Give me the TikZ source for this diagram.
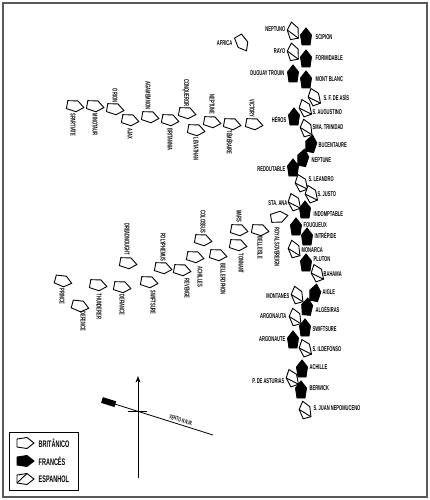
\documentclass[tikz,border=0pt]{standalone}
\usepackage{fontspec}
\newfontfamily\shipfont[FakeStretch=0.58]{Liberation Sans}
\usetikzlibrary{arrows.meta,calc}

\tikzset{
  hull/.style={draw, line width=0.9pt, line join=miter},
  pics/brit/.style={code={
      \draw[hull, fill=white] (9,0) -- (2,5.5) -- (-8,4) -- (-8,-4) -- (2,-5.5) -- cycle;}},
  pics/fran/.style={code={
      \draw[hull, fill=black] (9,0) -- (2,5.5) -- (-8,4) -- (-8,-4) -- (2,-5.5) -- cycle;}},
  pics/esp/.style={code={
      \draw[hull, fill=white] (9,0) -- (2,5.5) -- (-8,4) -- (-8,-4) -- (2,-5.5) -- cycle;
      \draw[hull] (2,-5.5) -- (-8,4);}},
  shiplab/.style={font=\shipfont\bfseries\fontsize{7}{8}\selectfont, inner sep=0.5pt},
  keylab/.style={font=\shipfont\bfseries\fontsize{9.5}{10}\selectfont, inner sep=0.5pt, anchor=west},
}

\begin{document}
\begin{tikzpicture}[
    x=1pt,y=-1pt,
    >=Stealth
    ]

    \useasboundingbox (0,0) rectangle (430,500);
    \draw[gray!70!black, line width=1.2pt] (3,3) rectangle (427,497);

    % =========================
    % Combined fleet (right column)
    % =========================
    \foreach \n/\x/\y/\r/\a/\lx/\ly/\t in {
        sci/306/37/90/west/315/37/SCIPION,
        for/306/59/90/west/315/58/FORMIDABLE,
        dug/293/74/90/east/285/73/DUGUAY TROUIN,
        mon/306/80/90/west/315/79/MONT BLANC,
        her/294/117/90/east/287/119/HÉROS,
        buc/311/144/80/west/318/145/BUCENTAURE,
        nef/303/158/80/west/311/160/NEPTUNE,
        red/293/168/90/east/286/169/REDOUTABLE,
        ind/305/210/90/west/313/214/INDOMPTABLE,
        fou/296/227/90/west/303/225/FOUGUEUX,
        int/307/237/90/west/314/235/INTRÉPIDE,
        plu/306/263/90/west/313/259/PLUTON,
        aig/315/293/80/west/322/292/AIGLE,
        alg/307/307/85/west/315/309/ALGÉSIRAS,
        swf/305/328/90/west/312/329/SWIFTSURE,
        arf/293/340/90/east/286/339/ARGONAUTE,
        ach/302/369/90/west/309/367/ACHILLE,
        ber/301/390/90/west/309/388/BERWICK}
      {
        \pic[rotate=\r] at (\x,\y) {fran};
        \node[shiplab, anchor=\a] (f-\n) at (\lx,\ly) {\t};
      }

    \foreach \n/\x/\y/\r/\a/\lx/\ly/\t in {
        nep/293/31/100/east/286/29/NEPTUNO,
        ray/293/52/100/east/286/51/RAYO,
        sfa/314/97/110/west/323/97/S. F. DE ASÍS,
        sau/305/108/110/west/312/112/S. AUGUSTINO,
        sma/306/128/105/west/312/127/SMA. TRINIDAD,
        sle/301/183/110/west/308/179/S. LEANDRO,
        sju/311/194/110/west/317/194/S. JUSTO,
        sta/294/202/110/east/288/203/STA. ANA,
        mna/294/249/105/west/301/250/MONARCA,
        bah/317/273/110/west/323/274/BAHAMA,
        mnt/297/295/105/east/290/296/MONTANES,
        arg/295/317/105/east/287/316/ARGONAUTA,
        sil/305/348/110/west/312/349/S. ILDEFONSO,
        pda/292/378/110/east/285/381/P. DE ASTURIAS,
        sjn/305/410/105/west/313/408/S. JUAN NEPOMUCENO}
      {
        \pic[rotate=\r] at (\x,\y) {esp};
        \node[shiplab, anchor=\a] (e-\n) at (\lx,\ly) {\t};
      }

    % Africa
    \pic[rotate=-60] at (242,43) {brit};
    \node[shiplab, anchor=east] (b-afr) at (233,43) {AFRICA};

    % =========================
    % British weather column (Nelson)
    % =========================
    \foreach \n/\x/\y/\a/\lx/\ly/\t in {
        spa/75/106/west/73/113/SPARTIATE,
        min/95/106/west/95/113/MINOTAUR,
        ori/115/109/east/115/103/ORION,
        aja/130/120/west/130/128/AJAX,
        aga/150/117/east/148/110/AGAMEMNON,
        bri/170/120/west/170/128/BRITANNIA,
        con/187/113/east/186/107/CONQUEROR,
        lev/196/130/west/196/137/LEVIATHAN,
        nep/212/122/east/212/115/NEPTUNE,
        tem/232/124/west/230/130/TÉMÉRAIRE,
        vic/254/124/east/252/118/VICTORY}
      {
        \pic[rotate=-10] at (\x,\y) {brit};
        \node[shiplab, rotate=-90, anchor=\a] (b-\n) at (\lx,\ly) {\t};
      }

    % =========================
    % British lee column (Collingwood)
    % =========================
    \foreach \n/\x/\y/\r/\a/\lx/\ly/\t in {
        pri/63/281/-15/west/62/288/PRINCE,
        dfc/80/306/-15/west/83/311/DEFENCE,
        thu/98/285/-10/west/99/293/THUNDERER,
        dfi/122/287/-10/west/122/294/DEFIANCE,
        dre/128/263/-10/east/127/256/DREADNOUGHT,
        swi/149/282/-10/west/153/290/SWIFTSURE,
        pol/163/268/-10/east/163/262/POLYPHEMUS,
        rev/182/270/-10/west/187/278/REVENGE,
        acs/195/257/-10/west/200/266/ACHILLES,
        col/203/240/-10/east/203/234/COLOSSUS,
        bel/218/255/-10/west/223/263/BELLEROPHON,
        ton/238/245/-10/west/241/253/TONNANT,
        mar/239/230/-10/east/239/223/MARS,
        bis/260/230/-10/west/260/236/BELLEISLE,
        roy/279/217/10/west/277/227/ROYAL SOVEREIGN}
      {
        \pic[rotate=\r] at (\x,\y) {brit};
        \node[shiplab, rotate=-90, anchor=\a] (b-\n) at (\lx,\ly) {\t};
      }

    % =========================
    % Compass and wind
    % =========================
    \coordinate (south) at (138,478);
    \coordinate (north) at (138,376);
    \coordinate (windA) at (102,400);
    \coordinate (windB) at (213,435);
    \coordinate (barW) at (128,411);
    \coordinate (barE) at (147,411);

    \draw[line width=0.8pt, ->] (south) -- (north);
    \draw[line width=0.8pt] (windA) -- (windB);
    \draw[line width=6pt] (windA) -- ($(windA)!0.12!(windB)$);
    \draw[line width=0.8pt] (barW) -- (barE);
    \node[font=\shipfont\bfseries\fontsize{6}{7}\selectfont, inner sep=0.5pt, rotate=-17.5]
      (vento) at (181,420) {VENTO N.N.W.};

    % =========================
    % Key
    % =========================
    \draw[line width=0.8pt] (9,432) rectangle (78,490);
    \pic at (25,443) {brit};
    \node[keylab] (k-bri) at (38,443) {BRITÂNICO};
    \pic at (25,461) {fran};
    \node[keylab] (k-fra) at (38,461) {FRANCÊS};
    \pic at (25,479) {esp};
    \node[keylab] (k-esp) at (38,479) {ESPANHOL};

\end{tikzpicture}
\end{document}
